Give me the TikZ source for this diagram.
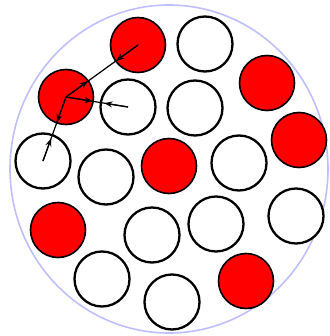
\documentclass[tikz,border=0pt]{standalone}
\usetikzlibrary{calc,arrows.meta}

\begin{document}
\begin{tikzpicture}[
  x=1pt, y=-1pt,
  ball/.style={circle, draw=black, line width=2.3pt, minimum size=55pt, inner sep=0pt},
  hot/.style={ball, fill=red, line width=1.6pt},
  cold/.style={ball, fill=white},
  wall/.style={draw=blue!25!white, line width=1.6pt},
  link/.style={draw=black, line width=1.2pt},
  push/.style={-{Stealth[length=8pt,width=6pt]}, draw=black, line width=1.2pt}
]
\useasboundingbox (0,0) rectangle (329,336);
\draw[wall, fill=white] (169,169) ellipse [x radius=159, y radius=164];

% red ones
\node[hot] (r1) at (138,45)  {};
\node[hot] (r2) at (66,97)   {};
\node[hot] (r3) at (267,83)  {};
\node[hot] (r4) at (299,140) {};
\node[hot] (r5) at (169,166) {};
\node[hot] (r6) at (58,230)  {};
\node[hot] (r7) at (246,281) {};

% white ones
\node[cold] (w1)  at (205,44)  {};
\node[cold] (w2)  at (128,107) {};
\node[cold] (w3)  at (195,108) {};
\node[cold] (w4)  at (43,161)  {};
\node[cold] (w5)  at (106,177) {};
\node[cold] (w6)  at (239,163) {};
\node[cold] (w7)  at (296,216) {};
\node[cold] (w8)  at (152,235) {};
\node[cold] (w9)  at (216,224) {};
\node[cold] (w10) at (102,279) {};
\node[cold] (w11) at (172,302) {};

% contacts
\draw[link] (r1.center) -- (r2.center);
\draw[link] (r2.center) -- (w2.center);
\draw[link] (r2.center) -- (w4.center);

\draw[push] (r1.center) -- ($(r1.center)!27pt!(r2.center)$);
\draw[push] (r2.center) -- ($(r2.center)!27pt!(r1.center)$);
\draw[push] (r2.center) -- ($(r2.center)!27pt!(w2.center)$);
\draw[push] (w2.center) -- ($(w2.center)!24pt!(r2.center)$);
\draw[push] (r2.center) -- ($(r2.center)!27pt!(w4.center)$);
\draw[push] (w4.center) -- ($(w4.center)!24pt!(r2.center)$);
\end{tikzpicture}
\end{document}
